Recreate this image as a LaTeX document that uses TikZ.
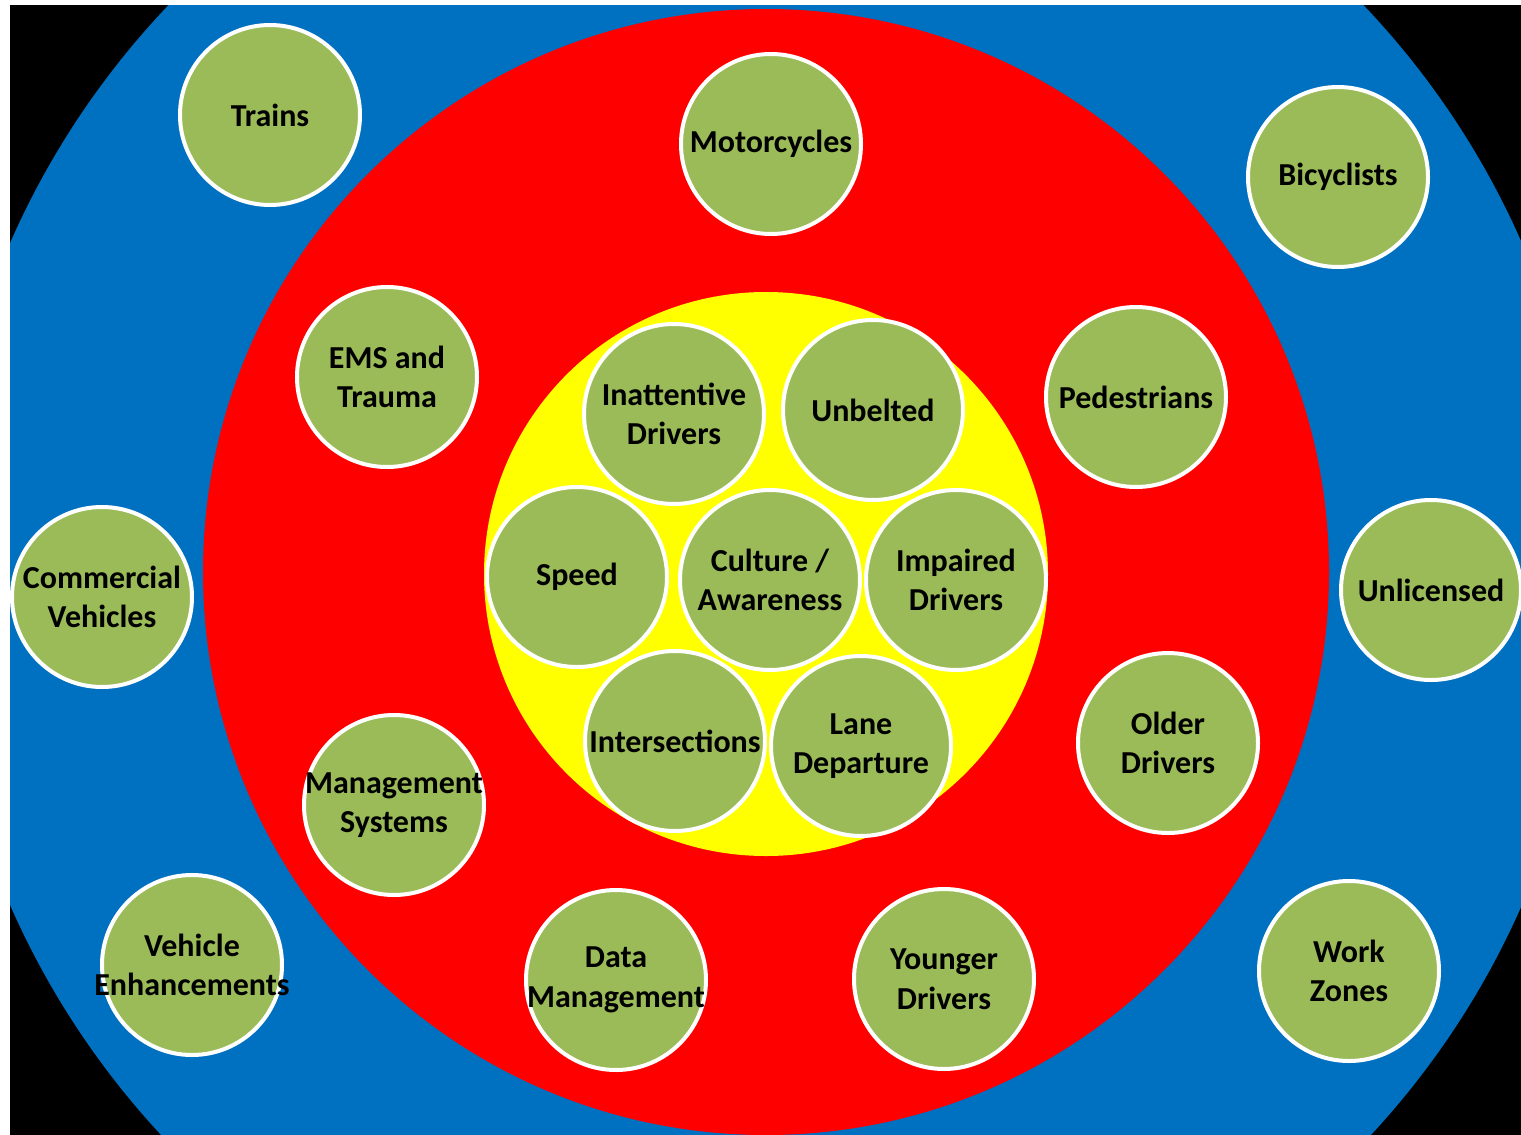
\documentclass[tikz,border=0pt]{standalone}
\usepackage{fontspec}
\setmainfont{Carlito}
\definecolor{tblue}{RGB}{0,112,192}
\definecolor{tred}{RGB}{255,0,0}
\definecolor{tyellow}{RGB}{255,255,0}
\definecolor{tgreen}{RGB}{155,187,89}
\tikzset{
  topictext/.style={align=center, text=black, inner sep=0pt, font=\fontsize{32}{39.5}\selectfont\bfseries},
  topic/.style={circle, fill=tgreen, draw=white, line width=4pt, minimum size=180pt, inner sep=0pt,
    label={[topictext]center:#1}},
}
\begin{document}
\begin{tikzpicture}[x=1pt,y=-1pt]
\useasboundingbox (0,0) rectangle (1521,1135);
\fill[white] (0,0) rectangle (1521,1135);
\begin{scope}
\clip (10,5) rectangle (1521,1135);
\fill[black] (10,5) rectangle (1521,1135);
\fill[tblue] (766,574) circle[radius=825];
\fill[tred] (766,572) circle[radius=563];
\fill[tyellow] (766,574) circle[radius=282];
\end{scope}
\node[topic={Trains}] (trains) at (270,115) {};
\node[topic={Motorcycles}] (moto) at (771,144) {};
\node[topic={Bicyclists}] (bike) at (1338,177) {};
\node[topic={EMS and\\Trauma}] (ems) at (387,377) {};
\node[topic={Pedestrians}] (ped) at (1136,397) {};
\node[topic={Inattentive\\Drivers}] (inatt) at (674,414) {};
\node[topic={Unbelted}] (unbelt) at (873,410) {};
\node[topic={Speed}] (speed) at (577,577) {};
\node[topic={Culture /\\Awareness}] (cult) at (770,580) {};
\node[topic={Impaired\\Drivers}] (impair) at (956,580) {};
\node[topic={Intersections}] (inter) at (675,741) {};
\node[topic={Lane\\Departure}] (lane) at (861,746) {};
\node[topic={Commercial\\Vehicles}] (comm) at (102,597) {};
\node[topic={Unlicensed}] (unlic) at (1431,590) {};
\node[topic={Older\\Drivers}] (older) at (1168,743) {};
\node[topic={Management\\Systems}] (mgmt) at (394,805) {};
\node[topic={Vehicle\\Enhancements}] (veh) at (192,965) {};
\node[topic={Data\\Management}] (data) at (616,980) {};
\node[topic={Younger\\Drivers}] (young) at (944,979) {};
\node[topic={Work\\Zones}] (work) at (1349,971) {};
\end{tikzpicture}
\end{document}
